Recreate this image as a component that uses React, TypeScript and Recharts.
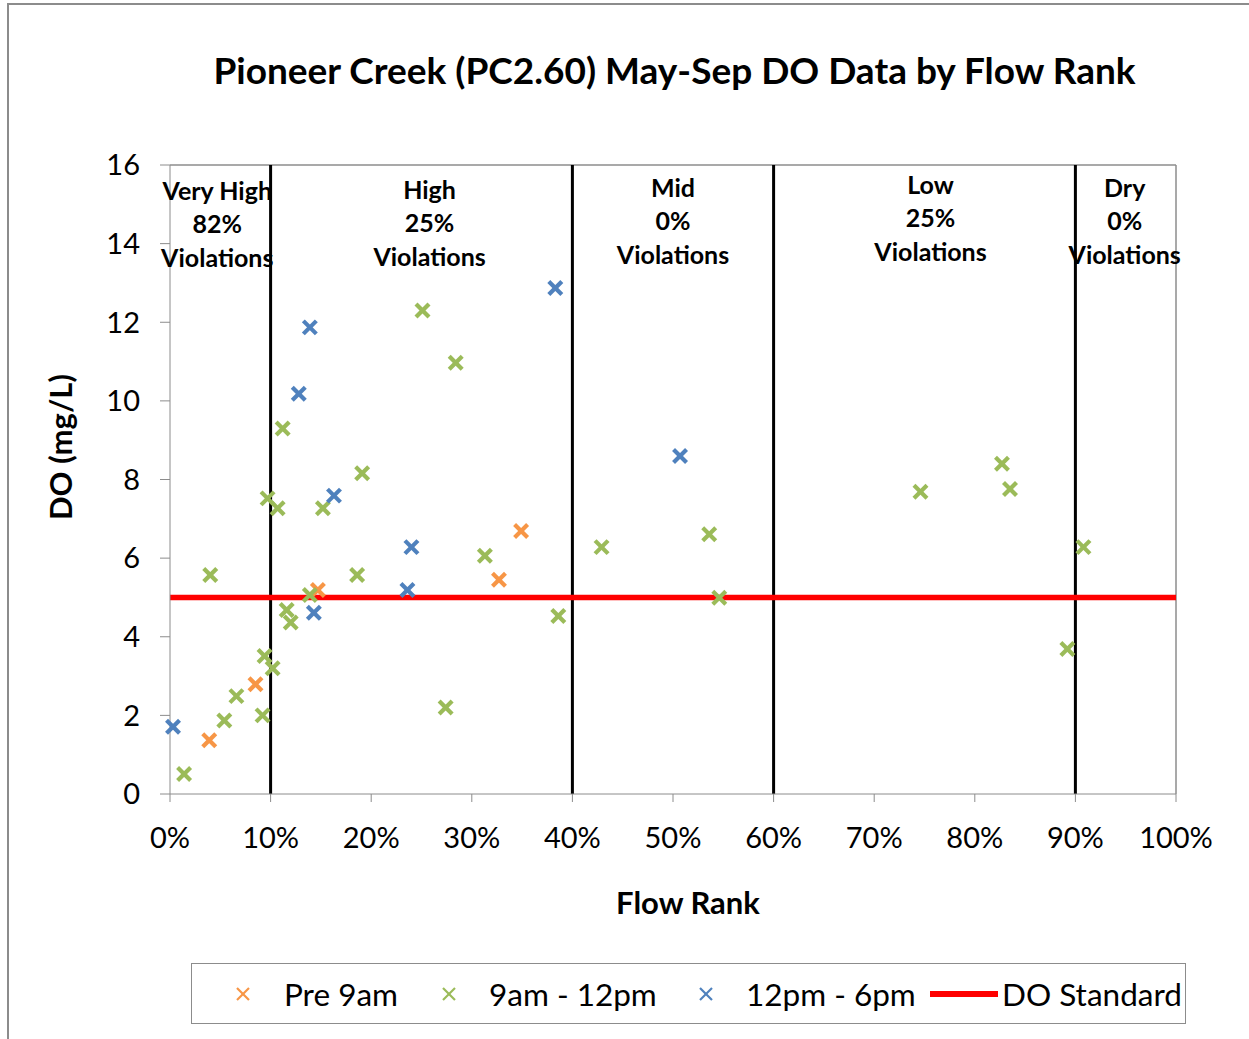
import React from "react";
import {
  ScatterChart,
  Scatter,
  XAxis,
  YAxis,
  ReferenceLine,
  ReferenceDot,
  Legend,
} from "recharts";

// Flow rank (fraction) and DO (mg/L)
const pre9am = [
  { rank: 0.039, value: 1.37 },
  { rank: 0.085, value: 2.79 },
  { rank: 0.147, value: 5.19 },
  { rank: 0.327, value: 5.45 },
  { rank: 0.349, value: 6.69 },
];

const am9to12 = [
  { rank: 0.014, value: 0.51 },
  { rank: 0.054, value: 1.87 },
  { rank: 0.066, value: 2.49 },
  { rank: 0.092, value: 2.0 },
  { rank: 0.094, value: 3.51 },
  { rank: 0.102, value: 3.2 },
  { rank: 0.04, value: 5.57 },
  { rank: 0.097, value: 7.52 },
  { rank: 0.107, value: 7.27 },
  { rank: 0.112, value: 9.3 },
  { rank: 0.116, value: 4.68 },
  { rank: 0.12, value: 4.36 },
  { rank: 0.139, value: 5.06 },
  { rank: 0.152, value: 7.27 },
  { rank: 0.191, value: 8.16 },
  { rank: 0.186, value: 5.57 },
  { rank: 0.251, value: 12.3 },
  { rank: 0.284, value: 10.97 },
  { rank: 0.313, value: 6.06 },
  { rank: 0.386, value: 4.53 },
  { rank: 0.274, value: 2.2 },
  { rank: 0.429, value: 6.28 },
  { rank: 0.536, value: 6.61 },
  { rank: 0.546, value: 4.99 },
  { rank: 0.746, value: 7.69 },
  { rank: 0.827, value: 8.4 },
  { rank: 0.835, value: 7.76 },
  { rank: 0.908, value: 6.28 },
  { rank: 0.892, value: 3.69 },
];

const pm12to6 = [
  { rank: 0.003, value: 1.71 },
  { rank: 0.143, value: 4.61 },
  { rank: 0.163, value: 7.59 },
  { rank: 0.139, value: 11.87 },
  { rank: 0.128, value: 10.18 },
  { rank: 0.383, value: 12.87 },
  { rank: 0.24, value: 6.28 },
  { rank: 0.236, value: 5.19 },
  { rank: 0.507, value: 8.6 },
];

const doStandard = 5;
const flowBreaks = [0.1, 0.4, 0.6, 0.9];
const xTicks = [0, 0.1, 0.2, 0.3, 0.4, 0.5, 0.6, 0.7, 0.8, 0.9, 1];
const yTicks = [0, 2, 4, 6, 8, 10, 12, 14, 16];

const zoneNames = ["Very High", "High", "Mid", "Low", "Dry"];
const zoneViolations = ["82%", "25%", "0%", "25%", "0%"];
const zoneLabelX = [0.047, 0.258, 0.5, 0.756, 0.949];
const zoneLabelY = [15.37, 15.4, 15.45, 15.52, 15.45];

const ORANGE = "#F79646";
const GREEN = "#9BBB59";
const BLUE = "#4F81BD";
const RED = "#FF0000";
const FONT = "Lato, 'Open Sans', sans-serif";

const makeCross = (color: string) => (props: any) => {
  const { cx, cy } = props;
  if (cx == null || cy == null) return <g />;
  const s = 6.5;
  return (
    <g>
      <line x1={cx - s} y1={cy - s} x2={cx + s} y2={cy + s} stroke={color} strokeWidth={4.2} />
      <line x1={cx - s} y1={cy + s} x2={cx + s} y2={cy - s} stroke={color} strokeWidth={4.2} />
    </g>
  );
};

const zoneText = (i: number) => (props: any) => {
  const { cx, cy } = props;
  const lines = [zoneNames[i], zoneViolations[i], "Violations"];
  return (
    <g>
      {lines.map((t, k) => (
        <text
          key={k}
          x={cx}
          y={cy + k * 33.5}
          textAnchor="middle"
          dominantBaseline="central"
          fontFamily={FONT}
          fontWeight={700}
          fontSize={25}
          fill="#000"
        >
          {t}
        </text>
      ))}
    </g>
  );
};

const LegendContent = () => {
  const items = [
    { label: "Pre 9am", color: ORANGE, type: "x", iconX: 52, textX: 93 },
    { label: "9am - 12pm", color: GREEN, type: "x", iconX: 258, textX: 298 },
    { label: "12pm - 6pm", color: BLUE, type: "x", iconX: 515, textX: 555 },
    { label: "DO Standard", color: RED, type: "line", iconX: 773, textX: 811 },
  ];
  return (
    <svg width={995} height={61} style={{ display: "block" }}>
      <rect x={0.5} y={0.5} width={994} height={60} fill="#fff" stroke="#8c8c8c" strokeWidth={1} />
      {items.map((it) => (
        <g key={it.label}>
          {it.type === "x" ? (
            <g stroke={it.color} strokeWidth={2.2}>
              <line x1={it.iconX - 6} y1={25} x2={it.iconX + 6} y2={37} />
              <line x1={it.iconX - 6} y1={37} x2={it.iconX + 6} y2={25} />
            </g>
          ) : (
            <line x1={it.iconX - 34} y1={31} x2={it.iconX + 34} y2={31} stroke={it.color} strokeWidth={6} />
          )}
          <text
            x={it.textX}
            y={31}
            dominantBaseline="central"
            fontFamily={FONT}
            fontSize={31.5}
            fill="#000"
          >
            {it.label}
          </text>
        </g>
      ))}
    </svg>
  );
};

export default function App() {
  return (
    <div style={{ position: "absolute", left: 0, top: 0, width: 1249, height: 1039, background: "#fff", overflow: "hidden" }}>
      <div
        style={{
          position: "absolute",
          left: 7,
          top: 3,
          width: 1260,
          height: 1060,
          borderLeft: "2px solid #8c8c8c",
          borderTop: "2px solid #8c8c8c",
        }}
      />
      <div
        style={{
          position: "absolute",
          left: 0,
          top: 47,
          width: 1349,
          textAlign: "center",
          fontFamily: FONT,
          fontWeight: 700,
          fontSize: 37,
          lineHeight: "46px",
          color: "#000",
        }}
      >
        Pioneer Creek (PC2.60) May-Sep DO Data by Flow Rank
      </div>
      <div style={{ position: "absolute", left: 0, top: 0 }}>
        <ScatterChart width={1249} height={1039} margin={{ top: 165, right: 73, bottom: 0, left: 90 }}>
          <XAxis
            type="number"
            dataKey="rank"
            domain={[0, 1]}
            ticks={xTicks}
            tickFormatter={(v: number) => `${Math.round(v * 100)}%`}
            height={245}
            tickSize={8}
            tickMargin={25}
            stroke="#8c8c8c"
            tick={{ fill: "#000", fontSize: 29, fontFamily: FONT }}
            label={(p: any) => {
              const vb = p.viewBox || {};
              return (
                <text
                  x={vb.x + vb.width / 2 + 15}
                  y={vb.y + 108}
                  textAnchor="middle"
                  dominantBaseline="central"
                  fontFamily={FONT}
                  fontWeight={700}
                  fontSize={31}
                  fill="#000"
                >
                  Flow Rank
                </text>
              );
            }}
          />
          <YAxis
            type="number"
            dataKey="value"
            domain={[0, 16]}
            ticks={yTicks}
            width={80}
            tickSize={10}
            tickMargin={20}
            stroke="#8c8c8c"
            tick={{ fill: "#000", fontSize: 29, fontFamily: FONT }}
            label={() => {
              const cy = 447;
              return (
                <text
                  x={60}
                  y={cy}
                  textAnchor="middle"
                  dominantBaseline="central"
                  transform={`rotate(-90, 60, ${cy})`}
                  fontFamily={FONT}
                  fontWeight={700}
                  fontSize={31}
                  fill="#000"
                >
                  DO (mg/L)
                </text>
              );
            }}
          />
          <ReferenceLine y={16} stroke="#8c8c8c" strokeWidth={1.5} />
          <ReferenceLine x={1} stroke="#8c8c8c" strokeWidth={1.5} />
          {flowBreaks.map((b) => (
            <ReferenceLine key={b} x={b} stroke="#000" strokeWidth={3} />
          ))}
          <ReferenceLine y={doStandard} stroke={RED} strokeWidth={5.5} />
          <Scatter name="Pre 9am" data={pre9am} shape={makeCross(ORANGE)} fill={ORANGE} isAnimationActive={false} />
          <Scatter name="9am - 12pm" data={am9to12} shape={makeCross(GREEN)} fill={GREEN} isAnimationActive={false} />
          <Scatter name="12pm - 6pm" data={pm12to6} shape={makeCross(BLUE)} fill={BLUE} isAnimationActive={false} />
          {zoneNames.map((n, i) => (
            <ReferenceDot
              key={n}
              x={zoneLabelX[i]}
              y={zoneLabelY[i]}
              r={0}
              shape={zoneText(i)}
            />
          ))}
          <Legend
            layout="vertical"
            align="center"
            verticalAlign="middle"
            content={() => <LegendContent />}
            wrapperStyle={{ position: "absolute", left: 191, top: 963, width: 995, height: 61 }}
          />
        </ScatterChart>
      </div>
    </div>
  );
}
